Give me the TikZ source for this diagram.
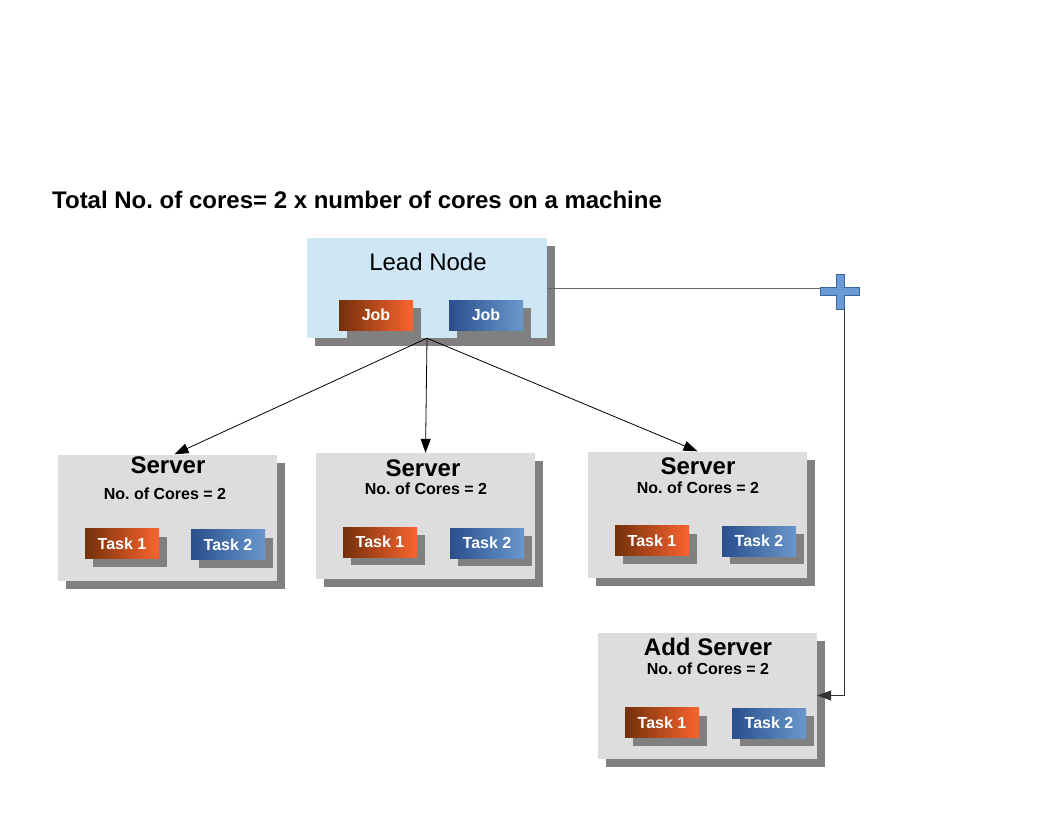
\documentclass[tikz,border=0pt]{standalone}
\usepackage{fontspec}
\setmainfont{Liberation Sans}
\usetikzlibrary{arrows.meta,shadows}
\frenchspacing

\definecolor{leadfill}{RGB}{207,231,245}
\definecolor{srvfill}{RGB}{221,221,221}
\definecolor{shadowgray}{RGB}{128,128,128}
\definecolor{brownA}{RGB}{115,48,10}
\definecolor{brownB}{RGB}{250,100,48}
\definecolor{blueA}{RGB}{42,78,140}
\definecolor{blueB}{RGB}{105,152,205}
\definecolor{plusfill}{RGB}{105,155,212}
\definecolor{plusline}{RGB}{60,100,160}

\tikzset{
	box/.style = {draw = none, minimum width = 219pt, minimum height = 126pt,
		drop shadow = {shadow xshift = 8pt, shadow yshift = -8pt, fill = shadowgray, opacity = 1}},
	leadbox/.style = {box, fill = leadfill, minimum width = 240pt, minimum height = 100pt},
	srvbox/.style = {box, fill = srvfill},
	chip/.style = {minimum width = 74pt, minimum height = 30pt, text = white,
		font = \fontsize{16}{19}\selectfont\bfseries,
		drop shadow = {shadow xshift = 8pt, shadow yshift = -8pt, fill = shadowgray, opacity = 1}},
	brownchip/.style = {chip, left color = brownA, right color = brownB},
	bluechip/.style = {chip, left color = blueA, right color = blueB},
	srvtitle/.style = {font = \fontsize{24}{28}\selectfont\bfseries},
	corestext/.style = {font = \fontsize{16}{19}\selectfont\bfseries},
	link/.style = {-{Triangle[width = 10pt, length = 14pt]}, line width = 0.8pt}
}

\begin{document}
\begin{tikzpicture}[x = 1pt, y = -1pt]
	\useasboundingbox (0, 0) rectangle (1056, 816);

	\node [anchor = base west, inner sep = 0pt, font = \fontsize{24}{28}\selectfont\bfseries] (title) at (52, 208)
		{Total No. of cores= 2 x number of cores on a machine};

	% lead node
	\node [leadbox] (lead) at (427, 288) {};
	\node [font = \fontsize{24}{28}\selectfont] (leadlabel) at (428, 262) {Lead Node};
	\node [brownchip] (jobA) at (376, 315) {Job};
	\node [bluechip] (jobB) at (486, 315) {Job};

	% servers
	\node [srvbox] (srvA) at (167.5, 517.5) {};
	\node [srvtitle] (srvAtitle) at (168, 465) {Server};
	\node [corestext] (srvAcores) at (165, 494) {No. of Cores = 2};
	\node [brownchip] (taskA1) at (122, 543.5) {Task 1};
	\node [bluechip] (taskA2) at (228, 544.5) {Task 2};

	\node [srvbox] (srvB) at (425.5, 516) {};
	\node [srvtitle] (srvBtitle) at (423, 468) {Server};
	\node [corestext] (srvBcores) at (426, 489) {No. of Cores = 2};
	\node [brownchip] (taskB1) at (380, 542) {Task 1};
	\node [bluechip] (taskB2) at (487, 543) {Task 2};

	\node [srvbox] (srvC) at (697.5, 514.5) {};
	\node [srvtitle] (srvCtitle) at (698, 466) {Server};
	\node [corestext] (srvCcores) at (698, 488) {No. of Cores = 2};
	\node [brownchip] (taskC1) at (652, 540.5) {Task 1};
	\node [bluechip] (taskC2) at (759, 541) {Task 2};

	\node [srvbox] (srvAdd) at (707.5, 695.5) {};
	\node [srvtitle] (srvAddtitle) at (708, 647) {Add Server};
	\node [corestext] (srvAddcores) at (708, 669) {No. of Cores = 2};
	\node [brownchip] (taskD1) at (662, 722.5) {Task 1};
	\node [bluechip] (taskD2) at (769, 723) {Task 2};

	% plus sign
	\coordinate (plus) at (840, 291);
	\coordinate (plusL) at (820, 288);
	\coordinate (plusB) at (844, 309);
	\draw [fill = plusfill, draw = plusline, line width = 0.8pt]
		(836, 274) -- (844, 274) -- (844, 287) -- (859, 287) -- (859, 295) -- (844, 295)
		-- (844, 309) -- (836, 309) -- (836, 295) -- (820, 295) -- (820, 287) -- (836, 287) -- cycle;

	% connectors
	\draw [link] (lead.south) -- ([xshift = 7pt] srvA.north);
	\draw [link] (lead.south) -- (srvB.north);
	\draw [link] (lead.south) -- (srvC.north);

	\draw [line width = 0.8pt, black!60] (lead.east) -- (plusL);
	\draw [link, black!80] (plusB) |- (srvAdd.east);
\end{tikzpicture}
\end{document}
